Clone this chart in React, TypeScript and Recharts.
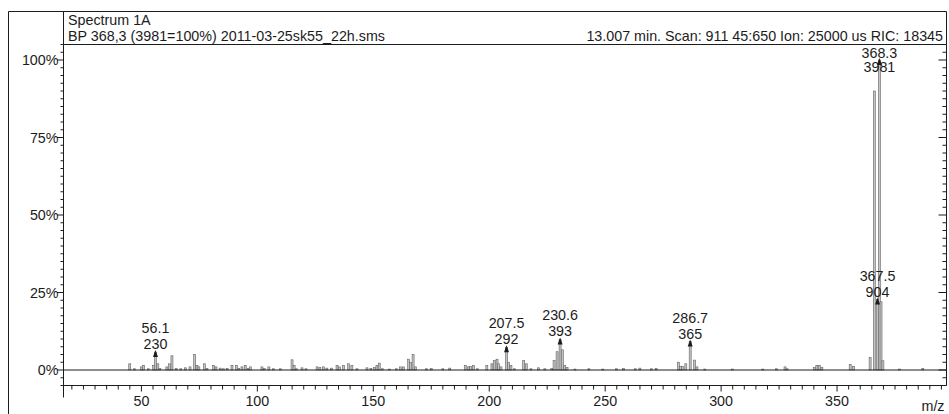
import React from 'react'
import {
  Bar,
  ComposedChart,
  LabelList,
  ReferenceLine,
  XAxis,
  YAxis,
} from 'recharts'

// base peak intensity (368.3 = 100%)
const BASE_PEAK = 3981

// centroid m/z values of the scan
const mzValues = [
  45.0, 47.0, 50.0, 51.0, 53.0, 55.3, 56.1, 57.1, 58.0, 61.0, 62.1, 63.2, 65.0,
  67.0, 69.0, 71.0, 73.0, 74.0, 74.8, 77.2, 78.3, 81.2, 82.2, 84.0, 85.5, 87.0,
  89.1, 91.0, 92.0, 93.4, 94.8, 96.0, 97.0, 102.0, 103.0, 105.0, 107.0, 110.0,
  115.0, 115.9, 117.0, 119.3, 121.0, 125.8, 127.0, 128.5, 130.0, 132.0, 134.4,
  135.5, 137.2, 139.4, 140.8, 143.0, 147.3, 149.0, 150.5, 151.6, 152.6, 154.0,
  157.0, 160.0, 161.7, 163.0, 165.3, 166.0, 167.2, 168.2, 173.0, 175.0, 180.0,
  183.0, 189.7, 191.0, 192.0, 193.2, 195.0, 199.0, 201.2, 202.2, 203.4, 204.1,
  205.1, 207.5, 208.4, 209.4, 211.0, 214.9, 216.0, 218.0, 221.3, 224.0, 227.0,
  228.0, 229.3, 230.6, 231.6, 232.6, 233.6, 237.0, 243.0, 249.0, 255.0, 258.0,
  263.0, 265.0, 270.0, 272.0, 281.6, 282.5, 283.3, 284.8, 286.7, 288.6, 289.6,
  293.0, 305.0, 318.0, 324.0, 327.6, 328.5, 340.2, 341.3, 342.4, 343.5, 355.7,
  357.2, 364.3, 366.1, 367.5, 368.3, 369.0, 369.8, 377.0, 387.0,
]

// ion counts, same order as mzValues
const ionCounts = [
  80, 16, 40, 60, 16, 60, 230, 80, 20, 40, 80, 183, 20,
  16, 28, 40, 199, 60, 40, 80, 20, 60, 40, 24, 16, 20,
  60, 60, 20, 40, 60, 20, 40, 40, 20, 40, 16, 16,
  131, 60, 16, 28, 16, 40, 32, 40, 24, 24, 60,
  40, 60, 80, 60, 16, 28, 20, 32, 60, 88, 16,
  12, 16, 40, 40, 139, 100, 199, 40, 16, 20, 16,
  24, 60, 40, 48, 60, 16, 60, 80, 120, 139, 80,
  40, 292, 100, 60, 16, 120, 80, 16, 28, 16, 20,
  123, 235, 393, 259, 60, 32, 12, 16, 12, 16, 20,
  16, 24, 16, 20, 100, 48, 48, 80, 365, 127, 40,
  12, 12, 12, 16, 40, 16, 32, 60, 60, 32, 72,
  48, 159, 3583, 904, 3981, 876, 119, 12, 20,
]

// peaks annotated with m/z and counts
const labelledPeaks = [56.1, 207.5, 230.6, 286.7, 367.5, 368.3]

const yMajorTicks = [0, 25, 50, 75, 100]
const yMinorTicks = Array.from({ length: 45 }, (_, i) => -5 + i * 2.5)
const xMajorTicks = [50, 100, 150, 200, 250, 300, 350]
const xMinorTicks = Array.from({ length: 76 }, (_, i) => 20 + i * 5)

const rows = mzValues.map((mz, i) => ({
  mz,
  pct: (ionCounts[i] / BASE_PEAK) * 100,
  tag: labelledPeaks.includes(mz) ? `${mz.toFixed(1)}|${ionCounts[i]}` : undefined,
}))

const W = 941
const H = 406
const MARGIN = { top: 36.5, right: 0, bottom: 0, left: 0.5 }
const Y_AXIS_W = 55
const RIGHT_AXIS_W = 2.5
const X_AXIS_H = 28.5
const PLOT_LEFT = MARGIN.left + Y_AXIS_W
const PLOT_RIGHT = W - MARGIN.right - RIGHT_AXIS_W
const PLOT_TOP = MARGIN.top
const PLOT_BOTTOM = H - MARGIN.bottom - X_AXIS_H

const INK = '#1c1c1c'
const FONT = '"Liberation Sans", Arial, Helvetica, sans-serif'
const FS = 14.3
const STICK_W = 2

const LeftTick = ({ x, y, payload }: any) => {
  const major = yMajorTicks.includes(payload.value)
  return (
    <g>
      <line x1={x - (major ? 6.5 : 3)} x2={x} y1={y} y2={y} stroke={INK} />
      {major && (
        <text x={x - 5} y={y} dy="0.35em" textAnchor="end" fontSize={FS} fontFamily={FONT} fill={INK}>
          {payload.value}%
        </text>
      )}
    </g>
  )
}

const RightTick = ({ x, y, payload }: any) => {
  const major = yMajorTicks.includes(payload.value)
  return <line x1={x - (major ? 8 : 4)} x2={x} y1={y} y2={y} stroke={INK} />
}

const BottomTick = ({ x, y, payload }: any) => {
  const major = xMajorTicks.includes(payload.value)
  return (
    <g>
      <line x1={x} x2={x} y1={y} y2={y + (major ? 6 : 4)} stroke={INK} />
      {major && (
        <text x={x} y={y + 15} dy="0.35em" textAnchor="middle" fontSize={FS} fontFamily={FONT} fill={INK}>
          {payload.value}
        </text>
      )}
    </g>
  )
}

// one centroid stick, centred on its m/z
const Stick = (props: any) => {
  const { x, y, width, height } = props
  if (height == null || !isFinite(height)) return null
  const cx = x + width / 2
  const top = height >= 0 ? y : y + height
  return (
    <rect
      x={cx - STICK_W / 2}
      y={top}
      width={STICK_W}
      height={Math.abs(height)}
      fill="#c4c4c4"
      stroke="#636363"
      strokeWidth={0.6}
    />
  )
}

// arrowhead plus "m/z / counts" annotation above a peak
const PeakTag = (props: any) => {
  const { value } = props
  if (!value) return null
  const vb = props.viewBox || props
  const x = vb.x ?? props.x
  const y = vb.y ?? props.y
  const width = vb.width ?? props.width
  const [mzText, countText] = String(value).split('|')
  const cx = x + width / 2
  const top = y
  // no room above the base peak: put the text around its tip instead
  const crowded = top - 24 < PLOT_TOP + 8
  const l1 = crowded ? top - 7.5 : top - 24
  const l2 = crowded ? top + 7 : top - 8
  const textProps = {
    x: cx,
    dy: '0.35em',
    textAnchor: 'middle' as const,
    fontSize: FS,
    fontFamily: FONT,
    fill: INK,
  }
  return (
    <g>
      <path d={`M${cx},${top - 2}L${cx - 2.5},${top + 5}L${cx + 2.5},${top + 5}Z`} fill={INK} />
      <text {...textProps} y={l1}>{mzText}</text>
      <text {...textProps} y={l2}>{countText}</text>
    </g>
  )
}

const App = () => {
  return (
    <div style={{ position: 'relative', width: W, height: H, fontFamily: FONT }}>
      {/* keep the report inside the window: no right/bottom page margin */}
      <style>{'body{margin:8px 0 0 8px;overflow:hidden}'}</style>
      <ComposedChart width={W} height={H} data={rows} margin={MARGIN}>
        <XAxis
          dataKey="mz"
          type="number"
          domain={[16.4, 397.2]}
          allowDataOverflow
          ticks={xMinorTicks}
          interval={0}
          tick={(p: any) => <BottomTick {...p} />}
          tickLine={false}
          tickSize={0}
          tickMargin={0}
          height={X_AXIS_H}
          axisLine={{ stroke: INK }}
        />
        <YAxis
          yAxisId="left"
          type="number"
          domain={[-5, 105]}
          allowDataOverflow
          ticks={yMinorTicks}
          interval={0}
          tick={(p: any) => <LeftTick {...p} />}
          tickLine={false}
          tickSize={0}
          tickMargin={0}
          width={Y_AXIS_W}
          axisLine={{ stroke: INK }}
        />
        <YAxis
          yAxisId="right"
          orientation="right"
          type="number"
          domain={[-5, 105]}
          allowDataOverflow
          ticks={yMinorTicks}
          interval={0}
          tick={(p: any) => <RightTick {...p} />}
          tickLine={false}
          tickSize={0}
          tickMargin={0}
          width={RIGHT_AXIS_W}
          axisLine={{ stroke: INK }}
        />
        <ReferenceLine yAxisId="left" y={0} stroke={INK} />
        <Bar yAxisId="left" dataKey="pct" barSize={2} shape={Stick} isAnimationActive={false}>
          <LabelList dataKey="tag" content={PeakTag} />
        </Bar>
      </ComposedChart>

      {/* report frame, header box and axis extensions */}
      <svg
        width={W}
        height={H}
        style={{ position: 'absolute', left: 0, top: 0, pointerEvents: 'none' }}
      >
        <path
          d={`M0.5,${H} V3.5 H${PLOT_RIGHT} V${PLOT_TOP}`}
          fill="none"
          stroke={INK}
        />
        <line x1={PLOT_LEFT} x2={PLOT_RIGHT} y1={PLOT_TOP} y2={PLOT_TOP} stroke={INK} />
        <line x1={PLOT_LEFT} x2={PLOT_LEFT} y1={3.5} y2={PLOT_TOP} stroke={INK} />
        <line x1={PLOT_LEFT} x2={PLOT_LEFT} y1={PLOT_BOTTOM} y2={PLOT_BOTTOM + 12} stroke={INK} />
        <text x={60} y={17} fontSize={FS} fontFamily={FONT} fill={INK}>
          Spectrum 1A
        </text>
        <text x={60} y={33} fontSize={FS} fontFamily={FONT} fill={INK}>
          BP 368,3 (3981=100%) 2011-03-25sk55_22h.sms
        </text>
        <text x={935} y={33} textAnchor="end" fontSize={FS} fontFamily={FONT} fill={INK}>
          13.007 min. Scan: 911 45:650 Ion: 25000 us RIC: 18345
        </text>
        <text x={925} y={403} textAnchor="middle" fontSize={FS} fontFamily={FONT} fill={INK}>
          m/z
        </text>
      </svg>
    </div>
  )
}

export default App
